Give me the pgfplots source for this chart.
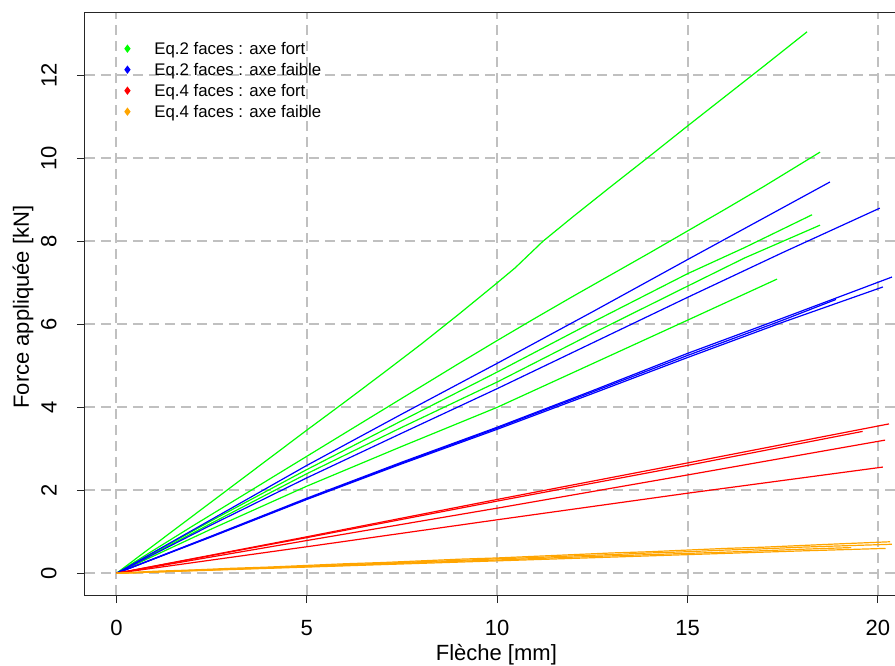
\documentclass[border=0pt]{standalone}
\usepackage{pgfplots}
\pgfplotsset{compat=1.18}
\usepackage{fontspec}
\setmainfont{Liberation Sans}
\definecolor{rgreen}{RGB}{0,255,0}
\definecolor{rblue}{RGB}{0,0,255}
\definecolor{rred}{RGB}{255,0,0}
\definecolor{rorange}{RGB}{255,165,0}
\definecolor{gridgray}{RGB}{192,192,192}
\begin{document}
\begin{tikzpicture}
\begin{axis}[
 at={(0pt,0pt)}, anchor=south west,
 scale only axis, width=425pt, height=291.35pt,
 xmin=-0.827, xmax=21.5, ymin=-0.523, ymax=13.52,
 axis line style={black!85, line width=0.5pt},
 xtick={0,5,10,15,20}, ytick={0,2,4,6,8,10,12},
 tick align=outside, tick pos=left, major tick length=4pt,
 tick style={black!85, line width=0.5pt},
 grid=major, major grid style={gridgray, line width=1pt, dash pattern=on 5pt off 3pt},
 font=\fontsize{11}{13}\selectfont,
 /pgf/number format/assume math mode=true,
 ticklabel style={font=\fontsize{11}{13}\selectfont},
 xticklabel style={anchor=north, inner sep=0pt},
 xticklabel shift=8.5pt,
 yticklabel style={rotate=90, anchor=south, inner sep=0pt},
 yticklabel shift=10pt,
 xlabel={Flèche [mm]},
 xlabel style={at={(axis description cs:0.484,-0.1125)}, anchor=base, inner sep=0pt},
 ylabel={Force appliquée [kN]},
 ylabel style={at={(axis description cs:-0.0729,0.494)}, anchor=center, inner sep=0pt},
 legend style={draw=none, fill=none, at={(axis description cs:0.0424,0.952)}, anchor=north west, inner sep=0pt, row sep=0pt, column sep=0pt, font=\fontsize{8.4}{10}\selectfont, nodes={inner sep=0pt, text height=7pt, text depth=3.5pt}, cells={anchor=base west}},
 legend image code/.code={\path[draw=none, fill=none] (-3pt,-3.5pt) rectangle (13.5pt,7pt); \draw[#1] plot coordinates {(0pt,3pt)};},
 every axis plot/.append style={line width=0.6pt},
]
% Eq.2 faces : axe fort (green)
\addplot[rgreen, forget plot] coordinates {(0,0) (1,0.69) (2,1.38) (3,2.07) (4,2.76) (5,3.45) (6,4.13) (7,4.82) (8,5.52) (9,6.25) (10,7.0) (10.47,7.36) (11.2,8.0) (12,8.6) (13,9.33) (14,10.05) (15,10.78) (16,11.5) (17,12.22) (18.14,13.05)};
\addplot[rgreen, forget plot] coordinates {(0,0) (1,0.57) (2,1.14) (3,1.7) (4,2.26) (5,2.82) (6,3.38) (7,3.94) (8,4.5) (9,5.06) (10,5.61) (11,6.15) (12,6.68) (13,7.2) (14,7.72) (15,8.25) (16,8.78) (17,9.32) (18.48,10.15)};
\addplot[rgreen, forget plot] coordinates {(0,0) (2.5,1.27) (5,2.5) (7.5,3.68) (10,4.85) (12.5,6.05) (15,7.22) (16.5,7.85) (18.27,8.64)};
\addplot[rgreen, forget plot] coordinates {(0,0) (2.5,1.21) (5,2.4) (7.5,3.52) (10,4.61) (12.5,5.78) (15,6.92) (16.5,7.6) (18.48,8.39)};
\addplot[rgreen, forget plot] coordinates {(0,0) (2.5,1.07) (5,2.1) (7.5,3.06) (10,4.0) (12.5,5.05) (15,6.1) (17.35,7.09)};
% Eq.2 faces : axe faible (blue)
\addplot[rblue, forget plot] coordinates {(0,0) (2.5,1.3) (5,2.6) (7.5,3.84) (10,5.06) (12.5,6.3) (15,7.56) (17,8.56) (18.74,9.43)};
\addplot[rblue, forget plot] coordinates {(0,0) (2.5,1.17) (5,2.3) (7.5,3.38) (10,4.45) (12.5,5.55) (15,6.65) (17.5,7.73) (20.05,8.80)};
\addplot[rblue, forget plot] coordinates {(0,0) (2.5,0.9) (5,1.81) (7.5,2.68) (10,3.52) (12.5,4.4) (15,5.3) (17.5,6.15) (20.37,7.14)};
\addplot[rblue, forget plot] coordinates {(0,0) (2.5,0.88) (5,1.78) (7.5,2.64) (10,3.47) (12.5,4.33) (15,5.2) (17.5,6.05) (20.13,6.90)};
\addplot[rblue, forget plot] coordinates {(0,0) (2.5,0.89) (5,1.79) (7.5,2.66) (10,3.5) (12.5,4.37) (15,5.25) (17.5,6.1) (18.9,6.6)};
% Eq.4 faces : axe fort (red)
\addplot[rred, forget plot] coordinates {(0,0) (5,0.88) (10,1.78) (15,2.66) (20.29,3.6)};
\addplot[rred, forget plot] coordinates {(0,0) (5,0.86) (10,1.74) (15,2.6) (19.6,3.42)};
\addplot[rred, forget plot] coordinates {(0,0) (5,0.79) (10,1.57) (15,2.37) (20.19,3.21)};
\addplot[rred, forget plot] coordinates {(0,0) (5,0.64) (10,1.29) (15,1.93) (20.13,2.56)};
% Eq.4 faces : axe faible (orange)
\addplot[rorange, forget plot] coordinates {(0,0) (1,0.05) (2,0.08) (3,0.12) (4,0.15) (5,0.19) (6,0.23) (7,0.26) (8,0.30) (9,0.34) (10,0.37) (11,0.41) (12,0.45) (13,0.49) (14,0.52) (15,0.56) (16,0.60) (17,0.63) (18,0.67) (19,0.71) (20.32,0.76)};
\addplot[rorange, forget plot] coordinates {(0,0) (1,0.03) (2,0.07) (3,0.10) (4,0.14) (5,0.17) (6,0.21) (7,0.24) (8,0.28) (9,0.31) (10,0.35) (11,0.38) (12,0.42) (13,0.45) (14,0.49) (15,0.52) (16,0.56) (17,0.59) (18,0.63) (19,0.66) (20.37,0.70)};
\addplot[rorange, forget plot] coordinates {(0,0) (2,0.06) (4,0.12) (6,0.18) (8,0.24) (10,0.30) (12,0.36) (14,0.42) (16,0.48) (18,0.54) (20.2,0.60)};
\addplot[rorange, forget plot] coordinates {(0,0) (2,0.07) (4,0.13) (6,0.19) (8,0.26) (10,0.32) (12,0.39) (14,0.45) (16,0.51) (18,0.58) (19.3,0.62)};
\addlegendimage{rgreen, mark=diamond*, mark size=1.6pt}
\addlegendentry{Eq.2 faces : axe fort}
\addlegendimage{rblue, mark=diamond*, mark size=1.6pt}
\addlegendentry{Eq.2 faces : axe faible}
\addlegendimage{rred, mark=diamond*, mark size=1.6pt}
\addlegendentry{Eq.4 faces : axe fort}
\addlegendimage{rorange, mark=diamond*, mark size=1.6pt}
\addlegendentry{Eq.4 faces : axe faible}
\end{axis}
\pgfresetboundingbox
\path (-42.5pt,-35pt) rectangle (405pt,297.5pt);
\end{tikzpicture}
\end{document}
